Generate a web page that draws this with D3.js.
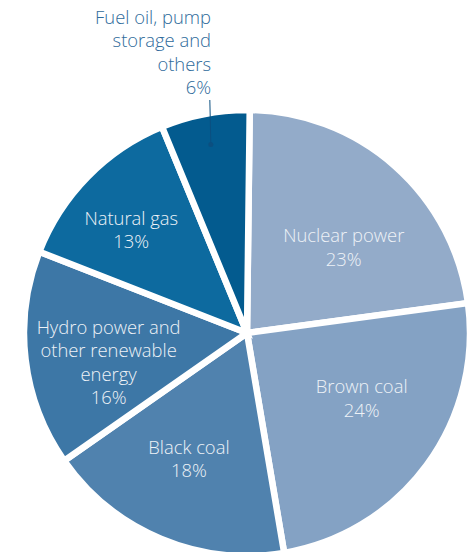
<!DOCTYPE html>
<html>
<head>
<meta charset="utf-8">
<script src="https://cdn.jsdelivr.net/npm/d3@7"></script>
<style>
  html, body { margin: 0; padding: 0; background: #fff; }
  svg { display: block; }
  text { font-family: "Open Sans", "Liberation Sans", sans-serif; font-weight: 300; }
</style>
</head>
<body>
<svg id="chart" width="470" height="552"></svg>
<script>
const categories = ["Nuclear power", "Brown coal", "Black coal", "Hydro power and other renewable energy", "Natural gas", "Fuel oil, pump storage and others"];
const values = [22.6, 24.4, 17.9, 15.6, 12.8, 6.4];
const percentLabels = ["23%", "24%", "18%", "16%", "13%", "6%"];
const labelLines = [
  ["Nuclear power"],
  ["Brown coal"],
  ["Black coal"],
  ["Hydro power and", "other renewable", "energy"],
  ["Natural gas"],
  ["Fuel oil, pump", "storage and", "others"]
];
const colors = ["#93abc9", "#84a2c4", "#5082ae", "#3d77a6", "#0d6a9f", "#035b8f"];

const data = categories.map((c, i) => ({ name: c, value: values[i], pct: percentLabels[i], lines: labelLines[i], color: colors[i] }));

// layout (not data)
const cx = 247, cy = 333, R = 223;
const deg = Math.PI / 180;
const labelPolar = [
  { a: 48.6, r: 129 },
  { a: 119.7, r: 132 },
  { a: 204.7, r: 139 },
  { a: 258, r: 141.5 },
  { a: 311.7, r: 155 },
  null
];

const svg = d3.select("#chart");
const g = svg.append("g").attr("transform", `translate(${cx},${cy})`);

const start = 0.7 * deg;
const pie = d3.pie().value(d => d.value).sort(null).startAngle(start).endAngle(2 * Math.PI + start);
const arcs = pie(data);
const arc = d3.arc().innerRadius(0).outerRadius(R);

g.selectAll("path.slice")
  .data(arcs)
  .enter().append("path")
  .attr("class", "slice")
  .attr("d", arc)
  .attr("fill", d => d.data.color)
  .attr("stroke", "#fff")
  .attr("stroke-width", 6.5)
  .attr("stroke-linejoin", "miter");

const fs = 18.4, lh = 23.5;

arcs.forEach((a, i) => {
  const d = a.data;
  const lp = labelPolar[i];
  if (!lp) return;
  const x = lp.r * Math.sin(lp.a * deg), y = -lp.r * Math.cos(lp.a * deg);
  const lines = d.lines.concat([d.pct]);
  const t = g.append("text")
    .attr("text-anchor", "middle")
    .attr("fill", "#eef2f7")
    .attr("font-size", fs);
  const y0 = y - (lines.length - 1) * lh / 2 + fs * 0.35;
  lines.forEach((ln, k) => {
    t.append("tspan").attr("x", x).attr("y", y0 + k * lh).text(ln);
  });
});

// Outside label for the small slice
const small = arcs[5];
const smid = (small.startAngle + small.endAngle) / 2;
const dotR = 192;
const dx = dotR * Math.sin(smid), dy = -dotR * Math.cos(smid);
g.append("line")
  .attr("x1", dx).attr("y1", dy)
  .attr("x2", dx - 1).attr("y2", -233)
  .attr("stroke", "#0b4f80").attr("stroke-width", 1);
g.append("circle").attr("cx", dx).attr("cy", dy).attr("r", 2.5).attr("fill", "#0b4f80");

const outLines = small.data.lines.concat([small.data.pct]);
const ot = svg.append("text")
  .attr("text-anchor", "end")
  .attr("fill", "#2f6b9b")
  .attr("font-size", fs);
outLines.forEach((ln, k) => {
  ot.append("tspan").attr("x", 211).attr("y", 24 + k * 23.3).text(ln);
});
</script>
</body>
</html>
